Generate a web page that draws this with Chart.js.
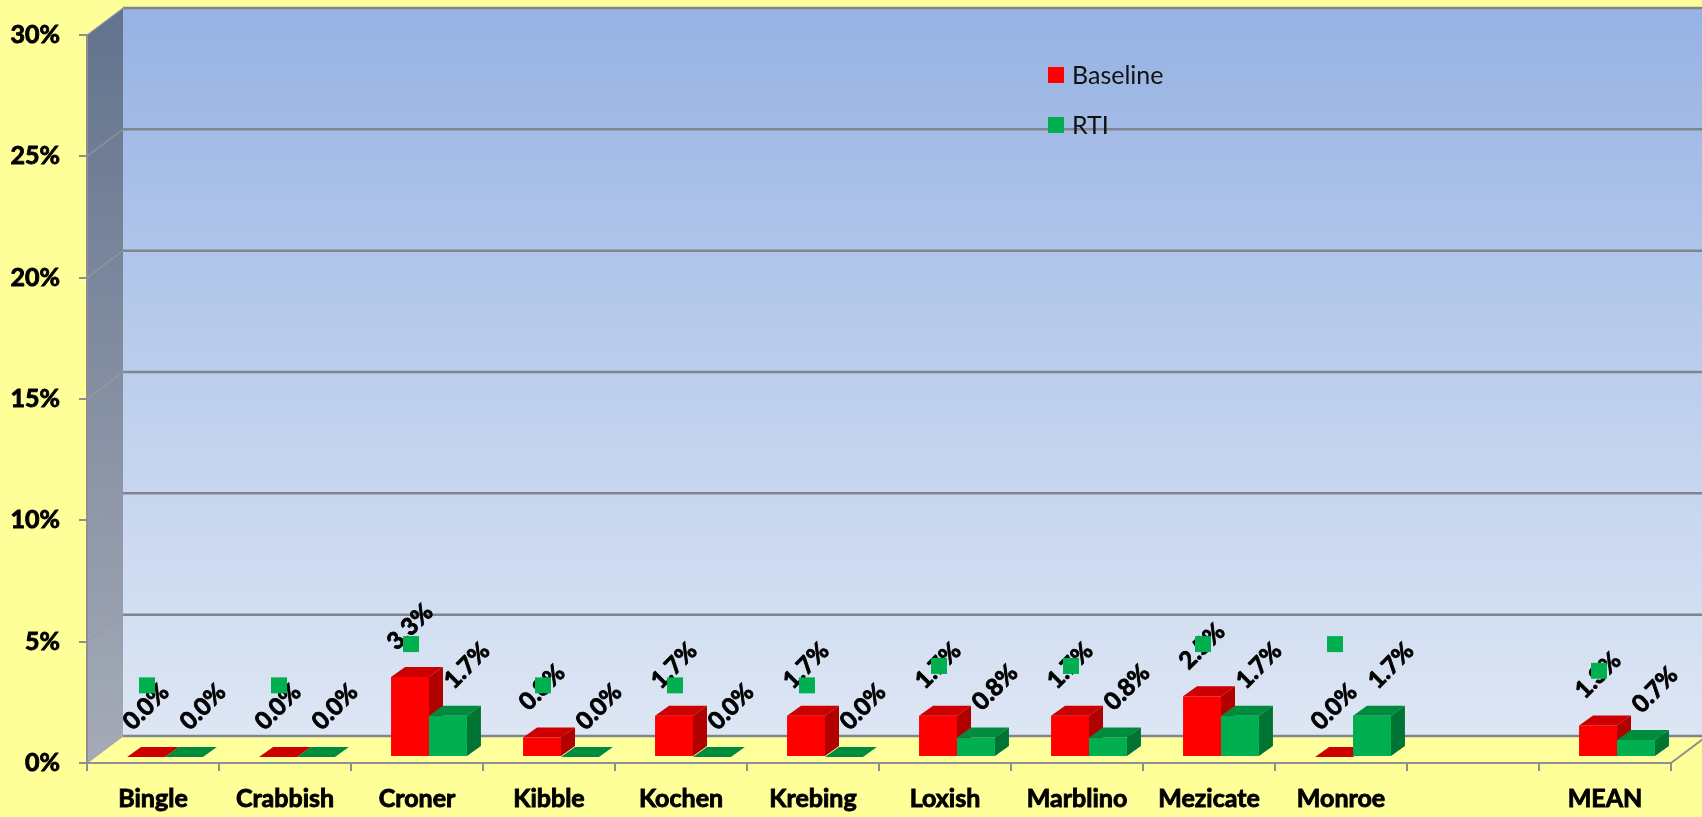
<!DOCTYPE html>
<html>
<head>
<meta charset="utf-8">
<script src="https://cdn.jsdelivr.net/npm/chart.js@4.4.0/dist/chart.umd.min.js"></script>
<style>
  html, body { margin: 0; padding: 0; background: #FFFF99; }
  #wrap { width: 1702px; height: 817px; }
</style>
</head>
<body>
<div id="wrap"><canvas id="chart1" width="1702" height="817"></canvas></div>
<script>
const categories = ['Bingle', 'Crabbish', 'Croner', 'Kibble', 'Kochen', 'Krebing', 'Loxish', 'Marblino', 'Mezicate', 'Monroe', '', 'MEAN'];
const baseline = [0.0, 0.0, 3.3, 0.8, 1.7, 1.7, 1.7, 1.7, 2.5, 0.0, null, 1.3];
const rti = [0.0, 0.0, 1.7, 0.0, 0.0, 0.0, 0.8, 0.8, 1.7, 1.7, null, 0.7];
const markerValues = [3.2, 3.2, 4.9, 3.2, 3.2, 3.2, 4.0, 4.0, 4.9, 4.9, null, 3.8];
const yTicks = [0, 5, 10, 15, 20, 25, 30];

const FONT = 'Lato, "Open Sans", sans-serif';
const WALL_DX = 36, WALL_DY = -27;   // depth of the 3d box
const BAR_DX = 14, BAR_DY = -10;     // depth of each bar
const BAR_SHIFT = [12, -6];
const MARK_SHIFT = [-6, 0];
const labelDx = [0, 19];
const faceColors = [
  { front: '#FF0000', top: '#CC0000', side: '#B00000' },
  { front: '#00B050', top: '#008C3F', side: '#007533' }
];

function drawBox(ctx, p, c) {
  const l = p.x - p.width / 2, r = p.x + p.width / 2;
  ctx.fillStyle = c.front;
  ctx.fillRect(l, p.y, p.width, p.base - p.y);
  ctx.fillStyle = c.top;
  ctx.beginPath();
  ctx.moveTo(l, p.y);
  ctx.lineTo(r, p.y);
  ctx.lineTo(r + BAR_DX, p.y + BAR_DY);
  ctx.lineTo(l + BAR_DX, p.y + BAR_DY);
  ctx.closePath();
  ctx.fill();
  ctx.fillStyle = c.side;
  ctx.beginPath();
  ctx.moveTo(r, p.y);
  ctx.lineTo(r + BAR_DX, p.y + BAR_DY);
  ctx.lineTo(r + BAR_DX, p.base + BAR_DY);
  ctx.lineTo(r, p.base);
  ctx.closePath();
  ctx.fill();
}

// walls, floor, back gridlines, bars in 3d, labels, legend
const threeD = {
  id: 'threeD',
  beforeDraw(chart) {
    const ctx = chart.ctx;
    const a = chart.chartArea;
    const ys = chart.scales.y;
    const W = chart.width;
    ctx.save();
    ctx.fillStyle = '#FFFF99';
    ctx.fillRect(0, 0, W, chart.height);

    // back wall
    let g = ctx.createLinearGradient(0, a.top + WALL_DY, 0, a.bottom + WALL_DY);
    g.addColorStop(0, '#96B2E3');
    g.addColorStop(0.6, '#C3D3EE');
    g.addColorStop(1, '#DDE6F4');
    ctx.fillStyle = g;
    ctx.fillRect(a.left + WALL_DX, a.top + WALL_DY, a.right - a.left + 10, a.bottom - a.top);

    // side wall
    g = ctx.createLinearGradient(0, a.top, 0, a.bottom);
    g.addColorStop(0, '#65748E');
    g.addColorStop(1, '#A5ABB7');
    ctx.fillStyle = g;
    ctx.beginPath();
    ctx.moveTo(a.left, a.top);
    ctx.lineTo(a.left + WALL_DX, a.top + WALL_DY);
    ctx.lineTo(a.left + WALL_DX, a.bottom + WALL_DY);
    ctx.lineTo(a.left, a.bottom);
    ctx.closePath();
    ctx.fill();

    // floor
    ctx.fillStyle = '#FFFF9C';
    ctx.beginPath();
    ctx.moveTo(a.left, a.bottom);
    ctx.lineTo(a.right, a.bottom);
    ctx.lineTo(a.right + WALL_DX, a.bottom + WALL_DY);
    ctx.lineTo(a.left + WALL_DX, a.bottom + WALL_DY);
    ctx.closePath();
    ctx.fill();
    ctx.strokeStyle = '#8F8F8F';
    ctx.lineWidth = 2;
    ctx.beginPath();
    ctx.moveTo(a.right, a.bottom);
    ctx.lineTo(a.right + WALL_DX, a.bottom + WALL_DY);
    ctx.stroke();

    // gridlines on back wall and side wall
    yTicks.forEach(v => {
      const yf = ys.getPixelForValue(v);
      const yb = yf + WALL_DY;
      ctx.strokeStyle = '#80858E';
      ctx.lineWidth = 2.5;
      ctx.beginPath();
      ctx.moveTo(a.left + WALL_DX, yb);
      ctx.lineTo(W + 10, yb);
      ctx.stroke();
      ctx.strokeStyle = 'rgba(150,155,165,0.8)';
      ctx.lineWidth = 1.2;
      ctx.beginPath();
      ctx.moveTo(a.left, yf);
      ctx.lineTo(a.left + WALL_DX, yb);
      ctx.stroke();
    });
    ctx.restore();
  },
  beforeDatasetDraw(chart, args) {
    if (args.index < 2) return false;   // bars are drawn below, as boxes
    const ctx = chart.ctx;
    const metas = [chart.getDatasetMeta(0), chart.getDatasetMeta(1)];
    const datas = [chart.data.datasets[0].data, chart.data.datasets[1].data];

    ctx.save();
    ctx.translate(BAR_SHIFT[0], BAR_SHIFT[1]);
    categories.forEach((c, j) => {
      [0, 1].forEach(k => {
        if (datas[k][j] == null) return;
        const p = metas[k].data[j].getProps(['x', 'y', 'base', 'width'], true);
        drawBox(ctx, p, faceColors[k]);
      });
    });

    ctx.font = 'bold 24px ' + FONT;
    ctx.fillStyle = '#000000';
    ctx.strokeStyle = '#000000';
    ctx.lineWidth = 0.9;
    ctx.textAlign = 'center';
    ctx.textBaseline = 'middle';
    [0, 1].forEach(k => {
      metas[k].data.forEach((el, j) => {
        if (datas[k][j] == null) return;
        const p = el.getProps(['x', 'y'], true);
        const txt = datas[k][j].toFixed(1) + '%';
        ctx.save();
        ctx.translate(p.x + labelDx[k], p.y - 50);
        ctx.rotate(-Math.PI / 4);
        ctx.fillText(txt, 0, 0);
        ctx.strokeText(txt, 0, 0);
        ctx.restore();
      });
    });
    ctx.restore();

    ctx.save();
    ctx.translate(MARK_SHIFT[0], MARK_SHIFT[1]);
  },
  afterDatasetDraw(chart, args) {
    if (args.index === 2) chart.ctx.restore();
  },
  afterDraw(chart) {
    const ctx = chart.ctx;
    ctx.save();
    ctx.font = '25px ' + FONT;
    ctx.textBaseline = 'middle';
    [0, 1].forEach(k => {
      const ds = chart.data.datasets[k];
      const y = 75 + k * 50;
      ctx.fillStyle = ds.backgroundColor;
      ctx.fillRect(1048, y - 8, 16, 16);
      ctx.fillStyle = '#111111';
      ctx.fillText(ds.label, 1072, y + 1);
    });
    ctx.restore();
  }
};

const ctx = document.getElementById('chart1').getContext('2d');
const chart = new Chart(ctx, {
  type: 'bar',
  data: {
    labels: categories,
    datasets: [
      {
        label: 'Baseline',
        data: baseline,
        backgroundColor: '#FF0000',
        categoryPercentage: 0.575,
        barPercentage: 1
      },
      {
        label: 'RTI',
        data: rti,
        backgroundColor: '#00B050',
        categoryPercentage: 0.575,
        barPercentage: 1
      },
      {
        type: 'line',
        label: 'RTI marker',
        data: markerValues,
        showLine: false,
        pointStyle: 'rect',
        pointRadius: 11.3,
        pointHoverRadius: 11.3,
        backgroundColor: '#00B050',
        borderWidth: 0,
        order: -1,
        clip: false
      }
    ]
  },
  options: {
    responsive: false,
    animation: false,
    layout: { padding: { top: 35, right: 31, left: 0, bottom: 0 } },
    plugins: {
      legend: { display: false },
      tooltip: { enabled: false }
    },
    scales: {
      x: {
        afterFit: s => { s.height = 54; },
        grid: { drawOnChartArea: false, tickLength: 8, color: '#8F8F8F', lineWidth: 2 },
        border: { color: '#8F8F8F', width: 2 },
        ticks: {
          color: '#000000',
          padding: 13,
          textStrokeColor: '#000000',
          textStrokeWidth: 0.9,
          font: { family: FONT, size: 25, weight: 'bold' }
        }
      },
      y: {
        min: 0,
        max: 30,
        afterFit: s => { s.width = 87; },
        afterBuildTicks: s => { s.ticks = yTicks.map(v => ({ value: v })); },
        grid: { drawOnChartArea: false, tickLength: 8, color: '#8F8F8F', lineWidth: 2 },
        border: { color: '#8F8F8F', width: 2 },
        ticks: {
          color: '#000000',
          padding: 19,
          textStrokeColor: '#000000',
          textStrokeWidth: 0.9,
          font: { family: FONT, size: 25, weight: 'bold' },
          callback: v => v + '%'
        }
      }
    }
  },
  plugins: [threeD]
});
</script>
</body>
</html>
